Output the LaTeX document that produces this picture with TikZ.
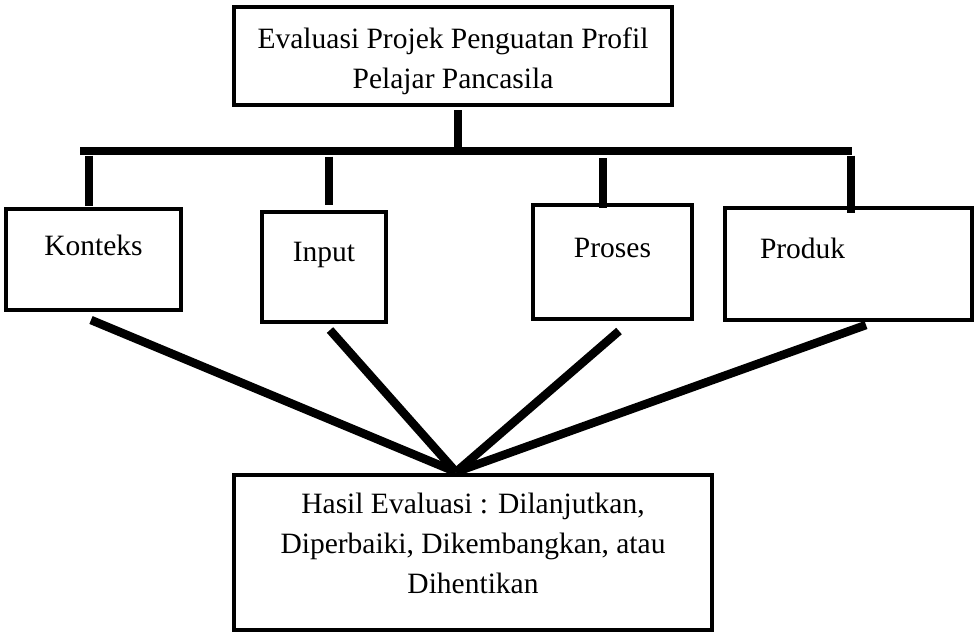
\documentclass[tikz,border=0pt]{standalone}
\usepackage{fontspec}
\setmainfont{Liberation Serif}
\usetikzlibrary{positioning}

\begin{document}
\begin{tikzpicture}[x=0.5pt,y=-0.5pt,
    kotak/.style={draw,line width=2pt,inner ysep=0pt,font=\fontsize{14.75}{20}\selectfont},
    garis/.style={line width=3.75pt},
    miring/.style={line width=4.25pt}]
  \useasboundingbox (0,0) rectangle (977,633);

  \node[kotak,minimum width=219pt,align=center,text height=40.5pt,text depth=8.5pt] (atas) at (453,56)
       {Evaluasi Projek Penguatan Profil\\Pelajar Pancasila};
  \node[kotak,minimum width=87.5pt,text height=23pt,text depth=27.5pt]   (konteks) at (93.5,259.5) {Konteks};
  \node[kotak,minimum width=62pt,text height=24.5pt,text depth=30.5pt]   (input)   at (324,267)    {Input};
  \node[kotak,minimum width=79.5pt,text height=26pt,text depth=31pt]     (proses)  at (612.5,262)  {Proses};
  \node[kotak,inner xsep=17.5pt,text width=88.5pt,align=left,
        text height=25pt,text depth=31pt]                                (produk)  at (848.5,264)  {Produk};
  \node[kotak,minimum width=239pt,align=center,text height=59pt,text depth=18.5pt] (hasil) at (473,552.5)
       {Hasil Evaluasi : Dilanjutkan,\\Diperbaiki, Dikembangkan, atau\\Dihentikan};

  \coordinate (kiri)   at (80,151);
  \coordinate (kanan)  at (852,151);
  \coordinate (tengah) at (458,151);
  \coordinate (puncak) at (456,472);

  \draw[garis,shorten <=1.5pt] (atas.south -| tengah) -- (tengah);
  \draw[garis,line width=4pt] (kiri) -- (kanan);
  \draw[garis,shorten <=2.25pt] (89,151)  -- (89,206);
  \draw[garis,shorten <=2.75pt] (329,151) -- (329,205);
  \draw[garis,shorten <=3.5pt]  (603,151) -- (603,208);
  \draw[garis,shorten <=2.25pt] (851,151) -- (851,213);

  \draw[miring] ([xshift=-1.25pt,yshift=-4pt]konteks.south) -- (puncak);
  \draw[miring] ([xshift=3pt,yshift=-3pt]input.south)       -- (puncak);
  \draw[miring] ([xshift=3.25pt,yshift=-5pt]proses.south)   -- (puncak);
  \draw[miring] ([xshift=8.75pt,yshift=-1.5pt]produk.south) -- (puncak);
\end{tikzpicture}
\end{document}
